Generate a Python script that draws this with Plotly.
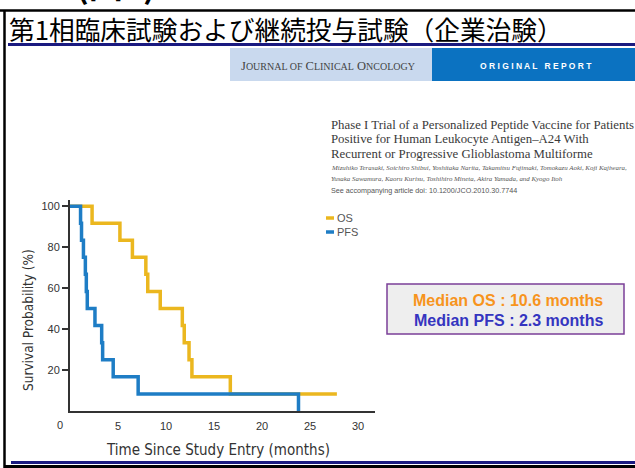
import plotly.graph_objects as go

# ---------------- data ----------------
os_months = [0, 2.3, 5.2, 6.5, 7.9, 8.1, 9.4, 11.7, 11.9, 12.4, 12.7, 16.7, 27.8]
os_surv = [100, 91.7, 83.3, 75.0, 66.7, 58.3, 50.0, 41.7, 33.3, 25.0, 16.7, 8.3, 8.3]

pfs_months = [0, 1.1, 1.2, 1.4, 1.6, 1.7, 1.8, 2.6, 3.3, 3.4, 4.5, 7.1, 23.8]
pfs_surv = [100, 91.7, 83.3, 75.0, 66.7, 58.3, 50.0, 41.7, 33.3, 25.0, 16.7, 8.3, 0]

x_ticks = [5, 10, 15, 20, 25, 30]
y_ticks = [20, 40, 60, 80, 100]

series_names = ["OS", "PFS"]
median_lines = ["Median OS : 10.6 months", "Median PFS : 2.3 months"]

slide_title = "第1相臨床試験および継続投与試験（企業治験）"
top_cut_text = "(図1)"
journal_name = "J<span style='font-size:10px'>OURNAL OF</span> C<span style='font-size:10px'>LINICAL</span> O<span style='font-size:10px'>NCOLOGY</span>"
report_label = "O R I G I N A L   R E P O R T"
paper_title_lines = [
    "Phase I Trial of a Personalized Peptide Vaccine for Patients",
    "Positive for Human Leukocyte Antigen–A24 With",
    "Recurrent or Progressive Glioblastoma Multiforme",
]
author_lines = [
    "Mizuhiko Terasaki, Soichiro Shibui, Yoshitaka Narita, Takamitsu Fujimaki, Tomokazu Aoki, Koji Kajiwara,",
    "Yusaka Sawamura, Kaoru Kurisu, Toshihiro Mineta, Akira Yamada, and Kyogo Itoh",
]
doi_line = "See accompanying article doi: 10.1200/JCO.2010.30.7744"

x_title = "Time Since Study Entry (months)"
y_title = "Survival Probability (%)"

# ---------------- geometry ----------------
W, H = 635, 468
L, R, T, B = 70, 260, 200, 57
PW, PH = W - L - R, H - T - B


def px(x):
    return (x - L) / PW


def py(y):
    return (H - B - y) / PH


OS_COLOR = "#EBB71F"
PFS_COLOR = "#1E7DC5"

fig = go.Figure()
fig.add_trace(go.Scatter(x=os_months, y=os_surv, mode="lines", line_shape="hv",
                         line=dict(color=OS_COLOR, width=3.5), name=series_names[0],
                         showlegend=False))
fig.add_trace(go.Scatter(x=pfs_months, y=pfs_surv, mode="lines", line_shape="hv",
                         line=dict(color=PFS_COLOR, width=3.5), name=series_names[1],
                         showlegend=False))

tick_font = dict(family="Arial, Liberation Sans, sans-serif", size=11, color="#333333")
fig.update_xaxes(range=[0, 31.77], tickvals=x_ticks, ticks="", showline=True,
                 linecolor="#333333", linewidth=2, showgrid=False, zeroline=False,
                 tickfont=tick_font, ticklabelstandoff=4)
fig.update_yaxes(range=[0, 103], tickvals=y_ticks, ticks="outside", ticklen=6,
                 tickwidth=1.5, tickcolor="#333333", showline=True,
                 linecolor="#333333", linewidth=2, showgrid=False, zeroline=False,
                 tickfont=tick_font)

shapes = []
ann = []

# frame lines
shapes.append(dict(type="line", xref="paper", yref="paper", x0=px(0), x1=px(635),
                   y0=py(10.5), y1=py(10.5), line=dict(color="black", width=2.5)))
shapes.append(dict(type="line", xref="paper", yref="paper", x0=px(4.5), x1=px(4.5),
                   y0=py(10), y1=py(468), line=dict(color="black", width=2.5)))
shapes.append(dict(type="line", xref="paper", yref="paper", x0=px(8), x1=px(635),
                   y0=py(44.5), y1=py(44.5), line=dict(color="#1A1A80", width=3)))
shapes.append(dict(type="line", xref="paper", yref="paper", x0=px(11), x1=px(635),
                   y0=py(462.5), y1=py(462.5), line=dict(color="#1A1A80", width=3)))
shapes.append(dict(type="line", xref="paper", yref="paper", x0=px(4), x1=px(635),
                   y0=py(466.5), y1=py(466.5), line=dict(color="black", width=3)))

# journal header boxes
shapes.append(dict(type="rect", xref="paper", yref="paper", x0=px(230), x1=px(432),
                   y0=py(81), y1=py(48), fillcolor="#C9D9EE", line=dict(width=0), layer="below"))
shapes.append(dict(type="rect", xref="paper", yref="paper", x0=px(432), x1=px(635),
                   y0=py(81), y1=py(48), fillcolor="#0B72C1", line=dict(width=0), layer="below"))

# median box
shapes.append(dict(type="rect", xref="paper", yref="paper", x0=px(387), x1=px(624),
                   y0=py(334), y1=py(284), fillcolor="#EEEEEE",
                   line=dict(color="#7B3F98", width=1.5)))

# custom legend lines
shapes.append(dict(type="line", xref="paper", yref="paper", x0=px(326), x1=px(334),
                   y0=py(218), y1=py(218), line=dict(color=OS_COLOR, width=3.5)))
shapes.append(dict(type="line", xref="paper", yref="paper", x0=px(326), x1=px(334),
                   y0=py(232), y1=py(232), line=dict(color=PFS_COLOR, width=3.5)))


def add_text(text, x, y, size, color, family, xanchor="left", yanchor="middle",
             angle=0):
    ann.append(dict(text=text, xref="paper", yref="paper", x=px(x), y=py(y),
                    xanchor=xanchor, yanchor=yanchor, showarrow=False, textangle=angle,
                    font=dict(size=size, color=color, family=family)))


cjk = "Noto Sans CJK JP, Noto Sans CJK SC, sans-serif"
serif = "Liberation Serif, DejaVu Serif, serif"
sans = "Arial, Liberation Sans, sans-serif"
narrow = "Liberation Sans Narrow, DejaVu Sans Condensed, Arial Narrow, sans-serif"

add_text("<b>" + top_cut_text + "</b>", 74, 10, 34, "black", cjk, yanchor="bottom")
add_text(slide_title, 7, 28, 25.7, "black", cjk)
add_text(journal_name, 328, 66, 12.5, "#444444", serif, xanchor="center")
add_text("<b>" + report_label + "</b>", 536, 66, 8.5, "white", sans, xanchor="center")
for i, line in enumerate(paper_title_lines):
    add_text(line, 329, 125 + i * 14.3, 12.8, "#3a3a3a", serif)
for i, line in enumerate(author_lines):
    add_text("<i>" + line + "</i>", 329, 167 + i * 11.5, 6.9, "#555555", serif)
add_text(doi_line, 329, 191, 7.2, "#555555", sans)

add_text(series_names[0], 335, 218, 11, "#555555", sans)
add_text(series_names[1], 335, 232, 11, "#555555", sans)

add_text("<b>" + median_lines[0] + "</b>", 508, 300, 16, "#F7941D", sans, xanchor="center")
add_text("<b>" + median_lines[1] + "</b>", 508, 320, 16, "#3535C0", sans, xanchor="center")

add_text("0", 60, 425, 11, "#333333", sans, xanchor="center")
add_text(x_title, 218, 450, 15, "#333333", narrow, xanchor="center")
add_text(y_title, 28, 320, 13.5, "#333333", narrow, xanchor="center", angle=-90)

fig.update_layout(width=W, height=H, margin=dict(l=L, r=R, t=T, b=B, pad=0),
                  paper_bgcolor="white", plot_bgcolor="white",
                  shapes=shapes, annotations=ann, showlegend=False)

fig.write_html("out.html", include_plotlyjs=True, full_html=True,
               config={"displayModeBar": False},
               post_script="document.body.style.margin='0px';")
